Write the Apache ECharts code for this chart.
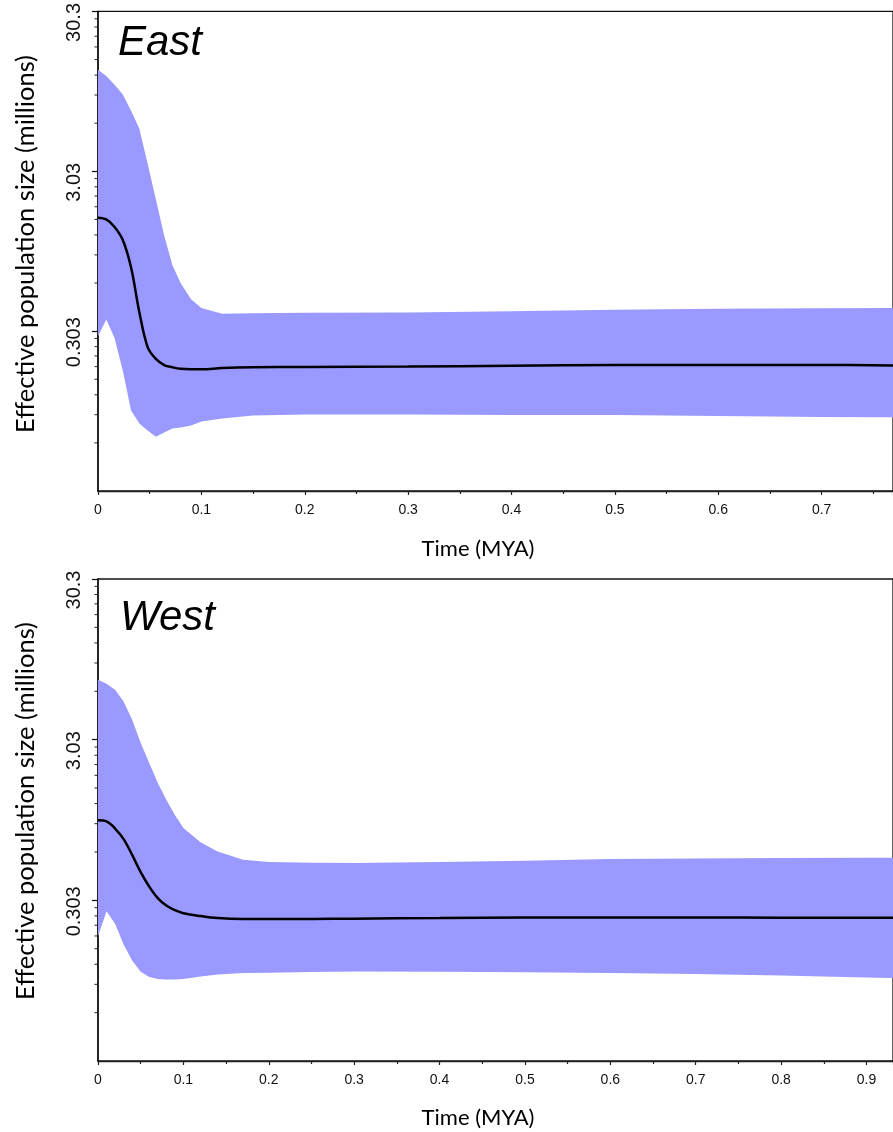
<!DOCTYPE html>
<html><head><meta charset="utf-8">
<script src="https://cdn.jsdelivr.net/npm/echarts@6/dist/echarts.min.js"></script>
<style>html,body{margin:0;padding:0;background:#fff}#c{width:893px;height:1132px}</style>
</head><body><div id="c"></div>
<script>
// Y axis is logarithmic; labelled decades (millions)
const yTickLabels = ['0.0303', '0.303', '3.03', '30.3'];
const yBase = 0.0303;

// East panel (time in MYA, Ne in millions)
const eastTime   = [0, 0.008, 0.016, 0.024, 0.032, 0.040, 0.048, 0.056, 0.064, 0.072, 0.080, 0.090, 0.100, 0.120, 0.150, 0.2, 0.3, 0.4, 0.5, 0.6, 0.7, 0.769];
const eastMedian = [1.554, 1.515, 1.36, 1.126, 0.757, 0.398, 0.241, 0.203, 0.186, 0.180, 0.176, 0.175, 0.175, 0.178, 0.180, 0.181, 0.182, 0.184, 0.186, 0.186, 0.186, 0.185];
const eastUpper  = [13.1, 11.95, 10.55, 9.15, 7.25, 5.60, 3.38, 2.02, 1.20, 0.782, 0.604, 0.479, 0.423, 0.390, 0.392, 0.395, 0.397, 0.403, 0.412, 0.418, 0.421, 0.423];
const eastLower  = [0.282, 0.358, 0.275, 0.171, 0.0966, 0.080, 0.0725, 0.0661, 0.0705, 0.0746, 0.0757, 0.0779, 0.0824, 0.0860, 0.0898, 0.0911, 0.0911, 0.0905, 0.0905, 0.0891, 0.0879, 0.0877];

// West panel
const westTime   = [0, 0.01, 0.02, 0.03, 0.04, 0.05, 0.06, 0.07, 0.08, 0.09, 0.10, 0.12, 0.14, 0.17, 0.2, 0.25, 0.3, 0.4, 0.5, 0.6, 0.7, 0.8, 0.9, 0.931];
const westMedian = [0.954, 0.938, 0.848, 0.728, 0.581, 0.454, 0.369, 0.313, 0.281, 0.263, 0.252, 0.242, 0.235, 0.232, 0.232, 0.232, 0.233, 0.235, 0.237, 0.237, 0.237, 0.236, 0.236, 0.236];
const westUpper  = [7.14, 6.75, 6.19, 5.24, 4.03, 2.89, 2.17, 1.63, 1.28, 1.03, 0.854, 0.696, 0.611, 0.543, 0.525, 0.520, 0.518, 0.524, 0.535, 0.547, 0.551, 0.555, 0.557, 0.557];
const westLower  = [0.181, 0.259, 0.217, 0.161, 0.128, 0.109, 0.101, 0.098, 0.0974, 0.0974, 0.098, 0.1016, 0.1046, 0.1068, 0.1073, 0.1084, 0.1091, 0.109, 0.108, 0.107, 0.1053, 0.103, 0.1002, 0.0997];

const panelTitles = ['East', 'West'];
const xName = 'Time (MYA)';
const yName = 'Effective population size (millions)';

const toL = v => Math.log10(v / yBase);
const BAND = '#9999ff';
const TICKFONT = '"Liberation Sans", Arial, sans-serif';
const NAMEFONT = 'Lato, "Open Sans", sans-serif';

const minorL = [];
for (let d = 0; d < yTickLabels.length - 1; d++) for (let k = 2; k <= 9; k++) minorL.push(d + Math.log10(k));

function panelSeries(idx, t, med, up, lo) {
  const bandData = t.map((x, i) => [x, toL(lo[i]), toL(up[i])]);
  const mid = t.map((x, i) => [x, toL(med[i])]);
  return [
    { type: 'custom', xAxisIndex: idx, yAxisIndex: idx, data: [0], silent: true, z: 1, clip: true,
      renderItem: (params, api) => {
        const top = bandData.map(d => api.coord([d[0], d[2]]));
        const bot = bandData.map(d => api.coord([d[0], d[1]])).reverse();
        return { type: 'polygon', shape: { points: top.concat(bot), smooth: 0 },
                 style: { fill: BAND, stroke: null } };
      } },
    { type: 'line', xAxisIndex: idx, yAxisIndex: idx, data: mid, symbol: 'none', smooth: 0.35,
      lineStyle: { color: '#000', width: 2.5 }, z: 3 },
    { type: 'custom', xAxisIndex: idx, yAxisIndex: idx, data: minorL.map(l => [0, l]), silent: true, z: 5,
      renderItem: (params, api) => {
        const p = api.coord([api.value(0), api.value(1)]);
        return { type: 'line', shape: { x1: p[0] - 3.5, y1: p[1], x2: p[0], y2: p[1] },
                 style: { stroke: '#222', lineWidth: 1 } };
      } }
  ];
}

function xAxis(idx, max) {
  return {
    type: 'value', gridIndex: idx, min: 0, max: max, interval: 0.1,
    axisLine: { lineStyle: { color: '#222', width: 1.3 } },
    axisTick: { show: true, length: 4, lineStyle: { color: '#222', width: 1.2 } },
    minorTick: { show: true, splitNumber: 2, length: 3, lineStyle: { color: '#222', width: 1.2 } },
    splitLine: { show: false }, minorSplitLine: { show: false },
    axisLabel: { fontSize: 14, color: '#111', fontFamily: TICKFONT, margin: 12, showMaxLabel: false,
      formatter: v => String(Math.round(v * 10) / 10) }
  };
}
function yAxis(idx) {
  return {
    type: 'value', gridIndex: idx, min: 0, max: yTickLabels.length - 1, interval: 1,
    axisLine: { show: true, lineStyle: { color: '#111', width: 1.5 } },
    axisTick: { show: true, length: 6, lineStyle: { color: '#111', width: 1.2 } },
    splitLine: { show: false },
    axisLabel: { fontSize: 20, color: '#111', fontFamily: TICKFONT, rotate: 90, margin: 14,
      padding: [0, 22, 0, 0], showMinLabel: false,
      formatter: v => (Math.round(v) === 0 ? '' : yTickLabels[Math.round(v)]) }
  };
}

const chart = echarts.init(document.getElementById('c'), null, { renderer: 'canvas' });
chart.setOption({
  animation: false,
  backgroundColor: '#fff',
  grid: [
    { left: 98, top: 8, right: -3, height: 483, show: true, borderColor: '#111', borderWidth: 1.3, backgroundColor: 'transparent' },
    { left: 98, top: 579, right: -3, height: 482, show: true, borderColor: '#111', borderWidth: 1.3, backgroundColor: 'transparent' }
  ],
  xAxis: [xAxis(0, 0.769), xAxis(1, 0.931)],
  yAxis: [yAxis(0), yAxis(1)],
  series: [].concat(
    panelSeries(0, eastTime, eastMedian, eastUpper, eastLower),
    panelSeries(1, westTime, westMedian, westUpper, westLower)
  ),
  graphic: [
    { type: 'text', x: 118, y: 43, style: { text: panelTitles[0], font: 'italic 42px "Liberation Sans", Arial', fill: '#000', align: 'left', verticalAlign: 'middle' } },
    { type: 'text', x: 120, y: 618, style: { text: panelTitles[1], font: 'italic 42px "Liberation Sans", Arial', fill: '#000', align: 'left', verticalAlign: 'middle' } },
    { type: 'text', x: 478, y: 549, style: { text: xName, font: '22px ' + NAMEFONT, fill: '#000', align: 'center', verticalAlign: 'middle' } },
    { type: 'text', x: 478, y: 1118, style: { text: xName, font: '22px ' + NAMEFONT, fill: '#000', align: 'center', verticalAlign: 'middle' } },
    { type: 'text', x: 26, y: 244, rotation: Math.PI / 2, style: { text: yName, font: '25.5px ' + NAMEFONT, fill: '#000', align: 'center', verticalAlign: 'middle' } },
    { type: 'text', x: 26, y: 811, rotation: Math.PI / 2, style: { text: yName, font: '25.5px ' + NAMEFONT, fill: '#000', align: 'center', verticalAlign: 'middle' } }
  ]
});
</script>
</body></html>
